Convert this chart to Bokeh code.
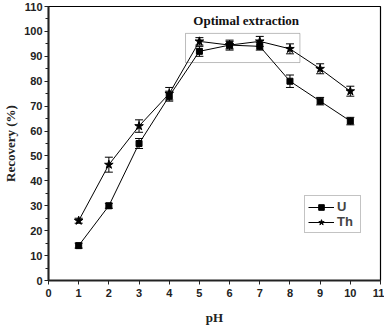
from bokeh.plotting import figure
from bokeh.models import (ColumnDataSource, Range1d, Whisker, TeeHead, Legend, LegendItem,
                          BoxAnnotation, Label, FixedTicker)
from bokeh.embed import file_html
from bokeh.resources import INLINE

ph = [1, 2, 3, 4, 5, 6, 7, 8, 9, 10]
u_rec = [14, 30, 55, 74, 92, 94.5, 94, 80, 72, 64]
u_err = [1, 1, 2, 2, 2, 1.5, 1.5, 2.5, 1.5, 1.5]
th_rec = [24, 46.5, 62, 75, 96, 94.5, 96, 93, 85, 76]
th_err = [1, 3, 2.5, 2.5, 1.5, 2, 2, 2, 2, 2]
x_ticks = list(range(0, 12))
y_ticks = list(range(0, 111, 10))

src_u = ColumnDataSource(dict(x=ph, y=u_rec,
                              lo=[a - b for a, b in zip(u_rec, u_err)],
                              hi=[a + b for a, b in zip(u_rec, u_err)]))
src_th = ColumnDataSource(dict(x=ph, y=th_rec,
                               lo=[a - b for a, b in zip(th_rec, th_err)],
                               hi=[a + b for a, b in zip(th_rec, th_err)]))

p = figure(width=384, height=327, output_backend="svg", toolbar_location=None,
           x_range=Range1d(0, 11), y_range=Range1d(0, 110),
           min_border_top=6, min_border_right=4, min_border_left=0, min_border_bottom=0)
p.background_fill_color = "white"
p.border_fill_color = "white"
p.xgrid.visible = False
p.ygrid.visible = False
p.outline_line_color = "black"
p.outline_line_width = 1.2

for ax in (p.xaxis[0], p.yaxis[0]):
    ax.axis_line_width = 2
    ax.axis_line_color = "#222222"
    ax.major_tick_line_color = "#222222"
    ax.minor_tick_line_color = "#222222"
    ax.major_tick_in = 0
    ax.major_tick_out = 4
    ax.minor_tick_in = 0
    ax.minor_tick_out = 3
    ax.major_label_text_font = "Liberation Sans"
    ax.major_label_text_font_style = "bold"
    ax.major_label_text_font_size = "11px"
    ax.major_label_text_color = "#222222"
    ax.axis_label_text_font = "Liberation Serif"
    ax.axis_label_text_font_style = "bold"
    ax.axis_label_text_font_size = "13px"
    ax.axis_label_text_color = "#222222"

p.xaxis.ticker = FixedTicker(ticks=x_ticks)
p.yaxis.ticker = FixedTicker(ticks=y_ticks, minor_ticks=[v + 5 for v in y_ticks[:-1]])
p.xaxis.axis_label = "pH"
p.yaxis.axis_label = "Recovery (%)"
p.xaxis.major_label_standoff = 4
p.yaxis.major_label_standoff = 2
p.xaxis.axis_label_standoff = 10
p.yaxis.axis_label_standoff = 3

# error bars
for src in (src_u, src_th):
    w = Whisker(source=src, base="x", upper="hi", lower="lo", line_color="black", line_width=1,
                upper_head=TeeHead(size=8, line_color="black", line_width=1),
                lower_head=TeeHead(size=8, line_color="black", line_width=1))
    p.add_layout(w)

lu = p.line("x", "y", source=src_u, line_color="black", line_width=1)
mu = p.scatter("x", "y", source=src_u, marker="square", size=6, fill_color="black", line_color="black")
lt = p.line("x", "y", source=src_th, line_color="black", line_width=1)
mt = p.scatter("x", "y", source=src_th, marker="star", size=9, fill_color="black", line_color="black")

box = BoxAnnotation(left=4.54, right=8.33, bottom=87.5, top=99.2, fill_alpha=0,
                    line_color="#222222", line_width=1)
p.add_layout(box)
p.add_layout(Label(x=6.55, y=104.5, text="Optimal extraction", text_align="center",
                   text_baseline="middle", text_font="Liberation Serif", text_font_style="bold",
                   text_font_size="13px", text_color="#111111"))

legend = Legend(items=[LegendItem(label="U", renderers=[lu, mu]),
                       LegendItem(label="Th", renderers=[lt, mt])],
                location=(256, 47), border_line_color="#888888", border_line_width=1,
                label_text_font="Liberation Sans", label_text_font_style="bold",
                label_text_font_size="13px", glyph_width=26, glyph_height=14,
                label_standoff=3, spacing=0, padding=3, margin=0,
                label_height=14, background_fill_alpha=1)
p.add_layout(legend)

open("out.html", "w").write(file_html(p, INLINE))
